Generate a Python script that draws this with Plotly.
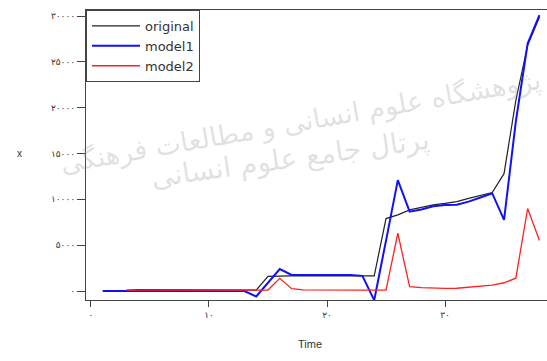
import plotly.graph_objects as go

time = list(range(1, 39))
original = [0, 0, 60, 150, 150, 100, 100, 100, 100, 150, 150, 100, 100, 100,
            1600, 1650, 1650, 1650, 1650, 1650, 1650, 1650, 1650, 1650,
            7900, 8300, 8850, 9150, 9400, 9550, 9750, 10100, 10400, 10750,
            12800, 20800, 26800, 29900]
model1 = [0, 0, 0, 0, 0, 0, 0, 0, 0, 50, 50, 50, 0, -600,
          870, 2400, 1750, 1750, 1750, 1750, 1750, 1750, 1650, -1000,
          5500, 12100, 8650, 8900, 9250, 9380, 9400, 9750, 10200, 10650,
          7750, 18500, 27000, 30100]
model2 = [None, None, 100, 100, 100, 100, 100, 100, 100, 100, 100, 100, 100, 100,
          100, 1380, 250, 120, 100, 100, 100, 100, 100, 100,
          100, 6300, 470, 360, 290, 280, 300, 400, 550, 650,
          900, 1400, 9000, 5500]

y_tickvals = [0, 5000, 10000, 15000, 20000, 25000, 30000]
y_ticktext = ["۰", "۵۰۰۰", "۱۰۰۰۰", "۱۵۰۰۰", "۲۰۰۰۰", "۲۵۰۰۰", "۳۰۰۰۰"]
x_tickvals = [0, 10, 20, 30]
x_ticktext = ["۰", "۱۰", "۲۰", "۳۰"]

W, H = 547, 361
ML, MR, MT, MB = 86, 0, 10, 61
PW, PH = W - ML - MR, H - MT - MB


def px(x):
    return (x - ML) / PW


def py(y):
    return (H - MB - y) / PH


fig = go.Figure()
fig.add_trace(go.Scatter(x=time, y=original, mode="lines", name="original",
                         line=dict(color="#222222", width=1.2)))
fig.add_trace(go.Scatter(x=time, y=model1, mode="lines", name="model1",
                         line=dict(color="#1010ff", width=2)))
fig.add_trace(go.Scatter(x=time, y=model2, mode="lines", name="model2",
                         line=dict(color="#ff2020", width=1.3)))

font_fam = "DejaVu Sans, Liberation Sans, sans-serif"
wm_color = "rgba(150,150,150,0.28)"

fig.update_layout(
    width=W, height=H,
    margin=dict(l=ML, r=MR, t=MT, b=MB, autoexpand=False),
    paper_bgcolor="white", plot_bgcolor="white",
    font=dict(family=font_fam, size=9, color="#333333"),
    showlegend=True,
    legend=dict(x=0, y=1, xanchor="left", yanchor="top",
                bordercolor="#444444", borderwidth=1, bgcolor="white",
                font=dict(family="DejaVu Sans, sans-serif", size=13, color="#333333"),
                tracegroupgap=0, itemwidth=48),
    xaxis=dict(range=[-0.42, 38.64], tickvals=x_tickvals, ticktext=x_ticktext,
               showgrid=False, zeroline=False, showline=True, linecolor="#444444",
               linewidth=1.2, mirror=True, ticks="outside", ticklen=6,
               tickcolor="#444444", tickfont=dict(size=9)),
    yaxis=dict(range=[-982, 30655], tickvals=y_tickvals, ticktext=y_ticktext,
               showgrid=False, zeroline=False, showline=True, linecolor="#444444",
               linewidth=1.2, ticks="outside", ticklen=8,
               tickcolor="#444444", tickfont=dict(size=9)),
    annotations=[
        dict(text="Time", x=px(310), y=py(352), xref="paper", yref="paper", showarrow=False,
             font=dict(family="Liberation Sans, Arial, sans-serif", size=11, color="#333333")),
        dict(text="x", x=px(15), y=py(153), xref="paper", yref="paper", showarrow=False,
             font=dict(family="Liberation Sans, Arial, sans-serif", size=10, color="#333333")),
        dict(text="پژوهشگاه علوم انسانی و مطالعات فرهنگی", x=px(300), y=py(62),
             xref="paper", yref="paper", showarrow=False, textangle=-10,
             font=dict(family="DejaVu Sans, sans-serif", size=27, color=wm_color)),
        dict(text="پرتال جامع علوم انسانی", x=px(290), y=py(158),
             xref="paper", yref="paper", showarrow=False, textangle=-8,
             font=dict(family="DejaVu Sans, sans-serif", size=28, color=wm_color)),
    ],
)

fig.write_html("out.html", config={"displayModeBar": False},
               post_script="document.body.style.margin='0';")
